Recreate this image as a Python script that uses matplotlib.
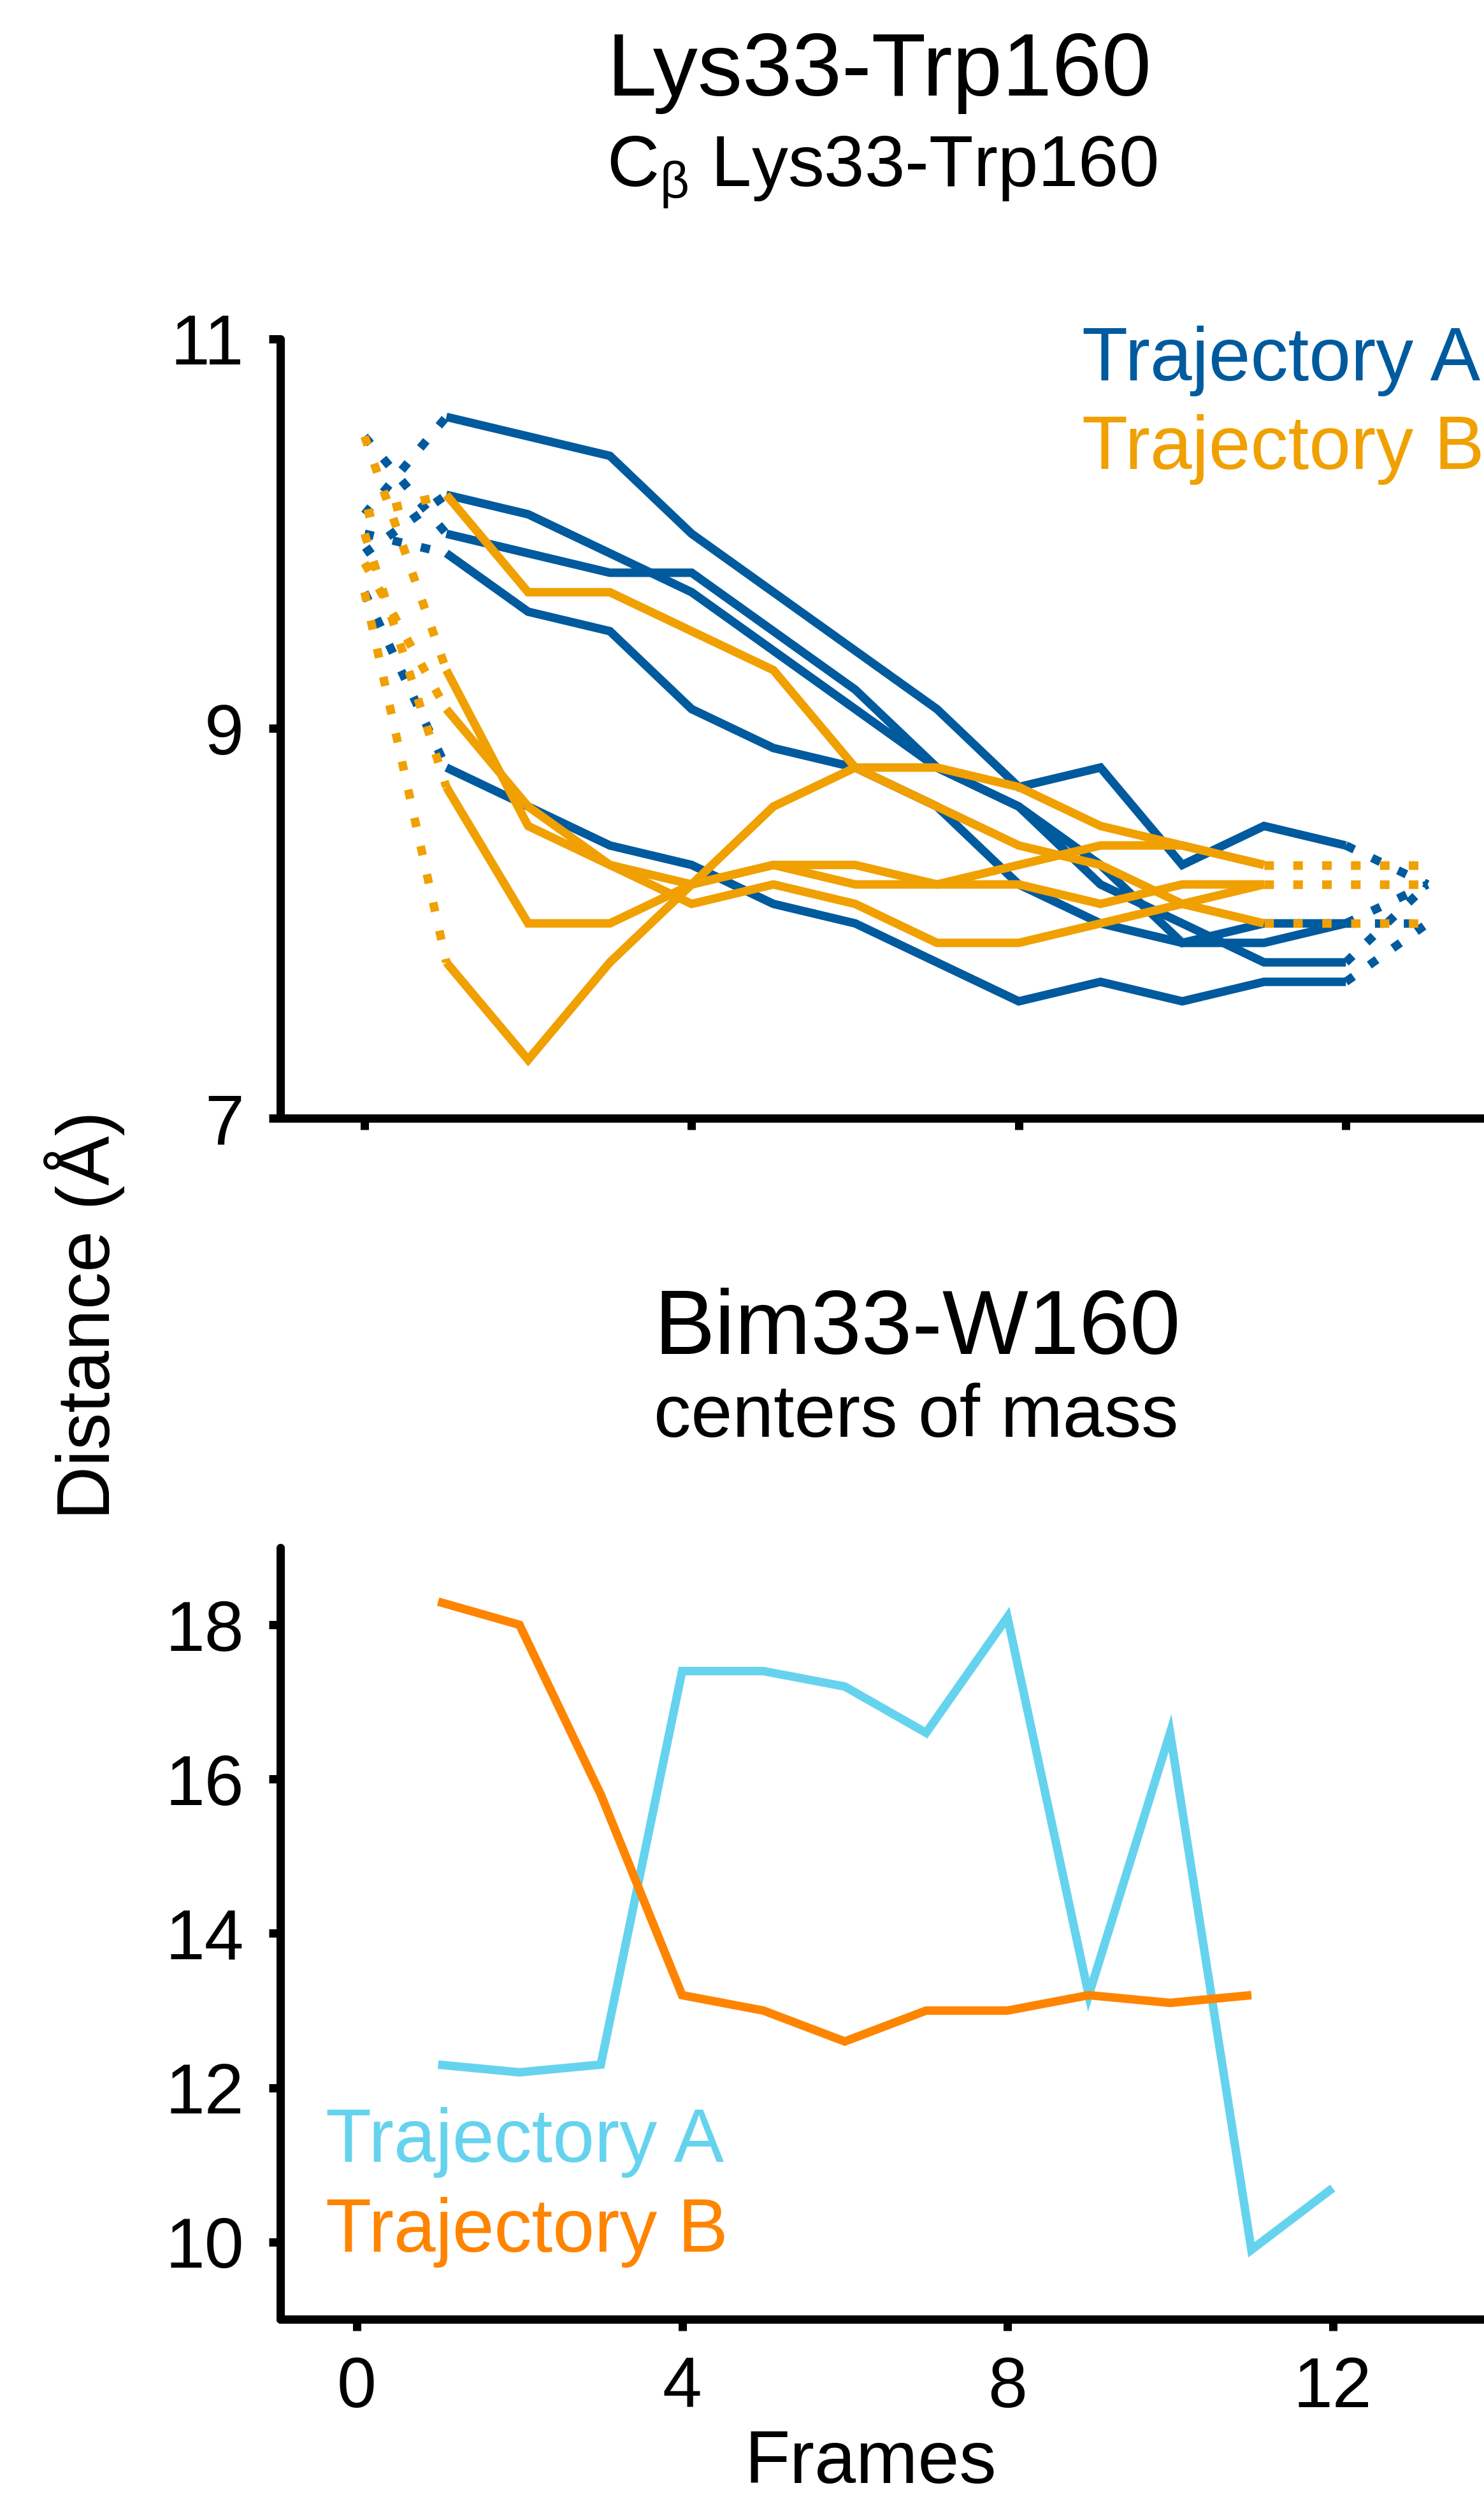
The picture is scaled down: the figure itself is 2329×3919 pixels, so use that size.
import numpy as np
import matplotlib.pyplot as plt

plt.rcParams['font.family'] = ['Liberation Sans', 'DejaVu Sans']
plt.rcParams['mathtext.fontset'] = 'custom'
plt.rcParams['mathtext.rm'] = 'Liberation Sans'
plt.rcParams['mathtext.it'] = 'Liberation Sans'
plt.rcParams['mathtext.default'] = 'rm'

# ---- top panel: C-beta Lys33-Trp160 distance (A) ----
frames_a = np.arange(1, 13)   # blue runs, frames 1..12
frames_b = np.arange(1, 12)   # orange runs, frames 1..11

traj_a = [
    [10.6, 10.5, 10.4, 10.0, 9.7, 9.4, 9.1, 8.7, 8.8, 8.3, 8.5, 8.4],
    [10.2, 10.1, 9.9, 9.7, 9.4, 9.1, 8.8, 8.6, 8.2, 8.0, 7.8, 7.8],
    [10.0, 9.9, 9.8, 9.8, 9.5, 9.2, 8.8, 8.6, 8.3, 7.9, 8.0, 8.0],
    [9.9, 9.6, 9.5, 9.1, 8.9, 8.8, 8.6, 8.2, 8.0, 7.9, 7.9, 8.0],
    [8.8, 8.6, 8.4, 8.3, 8.1, 8.0, 7.8, 7.6, 7.7, 7.6, 7.7, 7.7],
]
traj_a_start = [10.1, 9.9, 10.5, 10.0, 9.7]   # frame 0 (dotted)
traj_a_end = [8.2, 8.2, 8.2, 8.0, 8.0]        # frame 13 (dotted)

traj_b = [
    [10.2, 9.7, 9.7, 9.5, 9.3, 8.8, 8.8, 8.7, 8.5, 8.4, 8.3],
    [9.3, 8.5, 8.3, 8.1, 8.2, 8.1, 7.9, 7.9, 8.0, 8.1, 8.2],
    [9.1, 8.6, 8.3, 8.2, 8.3, 8.3, 8.2, 8.3, 8.4, 8.4, 8.3],
    [8.7, 8.0, 8.0, 8.2, 8.3, 8.2, 8.2, 8.2, 8.1, 8.2, 8.2],
    [7.8, 7.3, 7.8, 8.2, 8.6, 8.8, 8.6, 8.4, 8.3, 8.1, 8.0],
]
traj_b_start = [10.1, 10.5, 9.85, 10.0, 9.7]

# ---- bottom panel: Bim33-W160 centers of mass ----
com_frames_a = np.arange(1, 13)
com_a = [12.3, 12.2, 12.3, 17.4, 17.4, 17.2, 16.6, 18.1, 13.2, 16.6, 9.9, 10.7]
com_frames_b = np.arange(1, 12)
com_b = [18.3, 18.0, 15.8, 13.2, 13.0, 12.6, 13.0, 13.0, 13.2, 13.1, 13.2]

blue = '#005a9e'
gold = '#f0a000'
cyan = '#66d3ee'
orange = '#ff8400'

lw = 9.6
dots = (0, (1.1, 2.3))

W, H = 2329, 3919
fig = plt.figure(figsize=(W / 100, H / 100), dpi=100)

ax1 = fig.add_axes([440 / W, 1 - 1755 / H, 1 - 440 / W, (1755 - 532) / H])
ax2 = fig.add_axes([440 / W, 1 - 3640 / H, 1 - 440 / W, (3640 - 2429) / H])

solid = dict(lw=lw, solid_joinstyle='miter', solid_capstyle='butt')
dotted = dict(lw=lw, ls=dots, dash_capstyle='butt')

for ys, y0, y1 in zip(traj_a, traj_a_start, traj_a_end):
    ax1.plot([0, 1], [y0, ys[0]], color=blue, **dotted)
    ax1.plot([frames_a[-1], 13], [ys[-1], y1], color=blue, **dotted)
    ax1.plot(frames_a, ys, color=blue, **solid)

for ys, y0 in zip(traj_b, traj_b_start):
    ax1.plot([0, 1], [y0, ys[0]], color=gold, **dotted)
    ax1.plot([frames_b[-1], 12.9], [ys[-1], ys[-1]], color=gold, **dotted)
    ax1.plot(frames_b, ys, color=gold, **solid)

ax2.plot(com_frames_a, com_a, color=cyan, **solid)
ax2.plot(com_frames_b, com_b, color=orange, **solid)

ax1.set_xlim(-1.03, 13.69)
ax1.set_ylim(7, 11)
ax1.set_xticks([0, 4, 8, 12])
ax1.set_xticklabels([])
ax1.set_yticks([7, 9, 11])

ax2.set_xlim(-0.94, 13.86)
ax2.set_ylim(9, 19)
ax2.set_xticks([0, 4, 8, 12])
ax2.set_yticks([10, 12, 14, 16, 18])

for ax in (ax1, ax2):
    for s in ('top', 'right'):
        ax.spines[s].set_visible(False)
    for s in ('left', 'bottom'):
        ax.spines[s].set_linewidth(9.4)
        ax.spines[s].set_capstyle('round')
    ax.tick_params(direction='out', length=13, width=9.4, pad=28,
                   labelsize=80)
    ax.set_facecolor('none')

# legends as coloured text
fig.text(1698 / W, 1 - 597 / H, 'Trajectory A', color=blue, fontsize=85)
fig.text(1698 / W, 1 - 736 / H, 'Trajectory B', color=gold, fontsize=85)
fig.text(511 / W, 1 - 3393 / H, 'Trajectory A', color=cyan, fontsize=85)
fig.text(511 / W, 1 - 3534 / H, 'Trajectory B', color=orange, fontsize=85)

# titles
fig.text(1380 / W, 1 - 150 / H, 'Lys33-Trp160', ha='center', fontsize=101)
fig.text(1384 / W, 1 - 293 / H, r'C$_{β}$ Lys33-Trp160', ha='center', fontsize=82)
fig.text(1440 / W, 1 - 2125 / H, 'Bim33-W160', ha='center', fontsize=103)
fig.text(1438 / W, 1 - 2255 / H, 'centers of mass', ha='center', fontsize=84)

fig.text(133 / W, 1 - 2064 / H, 'Distance (Å)', rotation=90,
         ha='center', va='center', fontsize=84)
fig.text(1366 / W, 1 - 3897 / H, 'Frames', ha='center', fontsize=84)

fig.savefig('out.png', dpi=100)
